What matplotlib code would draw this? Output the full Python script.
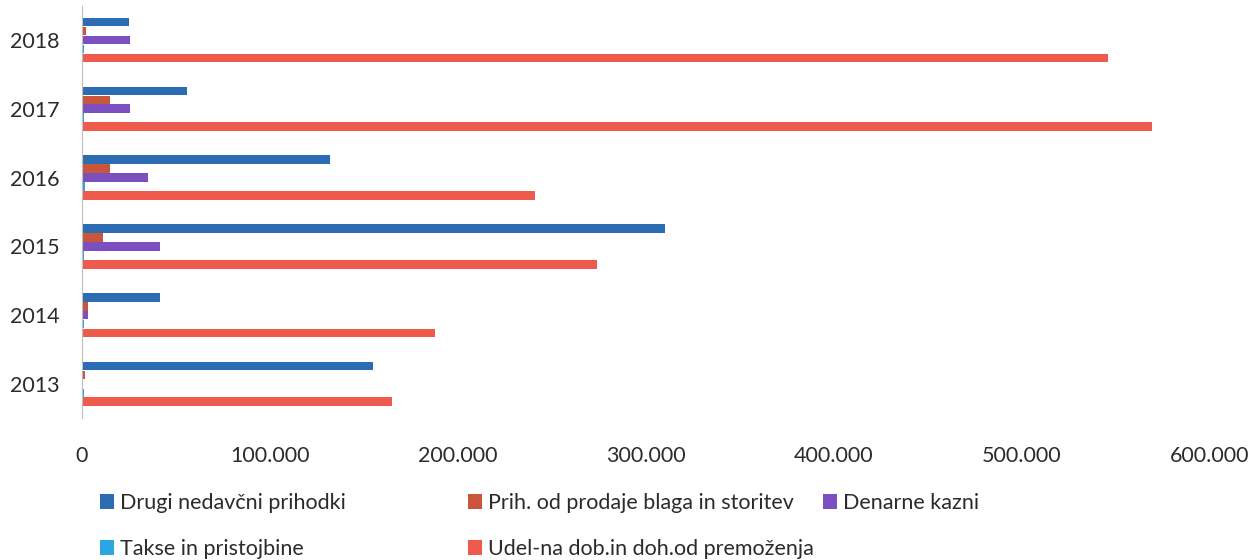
import matplotlib
matplotlib.use("Agg")
import matplotlib.pyplot as plt
import numpy as np
from matplotlib.ticker import FuncFormatter

years = ["2013", "2014", "2015", "2016", "2017", "2018"]
series_names = ["Drugi nedavčni prihodki", "Prih. od prodaje blaga in storitev",
                "Denarne kazni", "Takse in pristojbine",
                "Udel-na dob.in doh.od premoženja"]
drugi = [155000, 41500, 310000, 132000, 56000, 25000]
prih = [1500, 3000, 11000, 15000, 15000, 2000]
kazni = [500, 3000, 41500, 35000, 25500, 25500]
takse = [1000, 1000, 1000, 1500, 1000, 1000]
udel = [165000, 188000, 274000, 241000, 569000, 546000]
colors = ["#2B6CB3", "#C9553B", "#7B4FC0", "#2AA6E0", "#EE5B4D"]

plt.rcParams['font.family'] = ['Lato', 'DejaVu Sans']
fig = plt.figure(figsize=(12.56, 5.6), dpi=100)
ax = fig.add_axes([0.0653, 0.253, 0.898, 0.737])

data = [drugi, prih, kazni, takse, udel]
y = np.arange(len(years))
slot = 0.13
handles = []
for i, (vals, c) in enumerate(zip(data, colors)):
    off = (2 - i) * slot
    h = ax.barh(y + off, vals, height=slot * 0.97, color=c, label=series_names[i])
    handles.append(h)

ax.set_xlim(0, 600000)
ax.set_ylim(-0.5, 5.5)
ax.set_yticks(y)
ax.set_yticklabels(years)
ax.set_xticks(np.arange(0, 600001, 100000))
ax.xaxis.set_major_formatter(FuncFormatter(lambda v, p: "0" if v == 0 else f"{int(v):,}".replace(",", ".")))
for s in ["top", "right", "bottom"]:
    ax.spines[s].set_visible(False)
ax.spines["left"].set_color("#bfbfbf")
ax.tick_params(axis="both", length=0, labelsize=15.5, colors="#2b2b2b")
ax.tick_params(axis="x", pad=20)
ax.tick_params(axis="y", pad=16)

# legend entries placed like the reference (marker left x, row centre y in px)
pos = [(100, 503), (468, 503), (823, 503), (100, 549), (468, 549)]
W, H = 1256, 560
for i, (px, py) in enumerate(pos):
    leg = fig.legend([handles[i]], [series_names[i]], loc="center left",
                     bbox_to_anchor=(px / W, 1 - py / H), frameon=False,
                     fontsize=15.5, handlelength=0.65, handleheight=0.65,
                     handletextpad=0.3, borderpad=0, borderaxespad=0)
    for t in leg.get_texts():
        t.set_color("#2b2b2b")

fig.savefig("out.png", dpi=100)
